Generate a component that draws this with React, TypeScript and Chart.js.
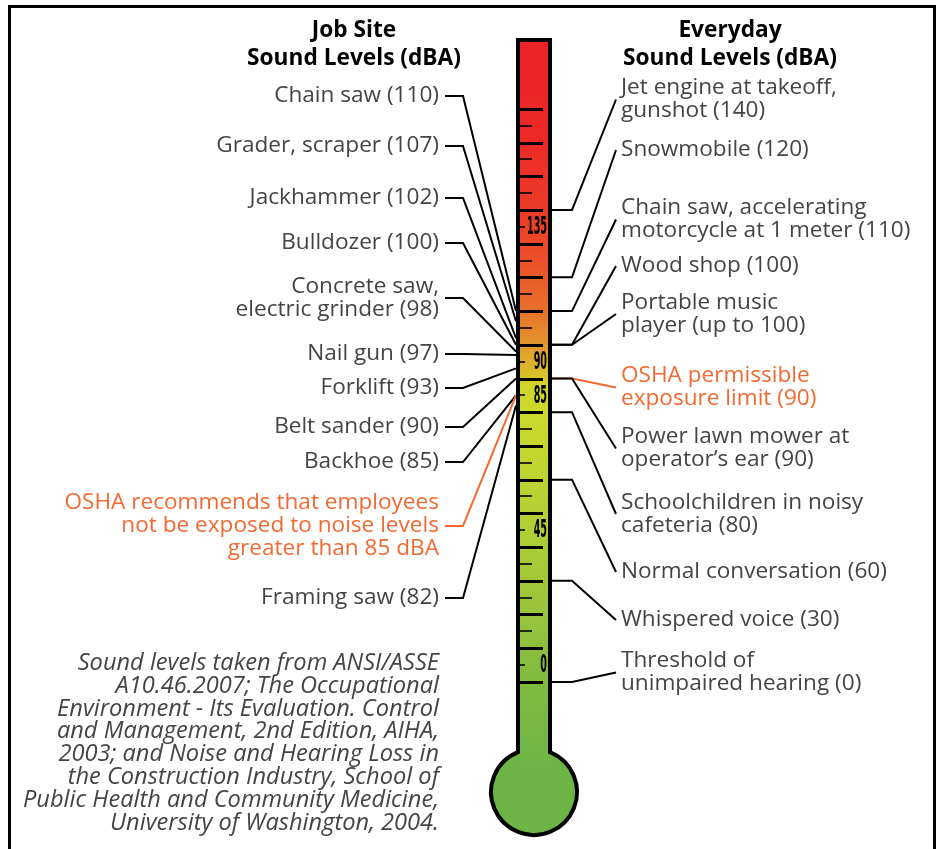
import React, { useEffect, useRef } from 'react';
import { Chart, registerables } from 'chart.js';
Chart.register(...registerables);

// ---------- DATA ----------
// Thermometer tube, in dBA (bottom buried in the bulb, top of the glass)
const tubeRange: [number, number] = [-25, 191];
// Gauge ticks every 5 dBA up to 170
const gaugeStep = 5;
const gaugeTop = 170;
// Printed gauge numbers and the tick they sit on (as drawn in the original)
const gaugeLabels = ['0', '45', '85', '90', '135'];
const gaugeLabelLevels = [5, 45, 85, 95, 135];

// Job site sources
const jobSiteLabels: string[][] = [
  ['Chain saw (110)'],
  ['Grader, scraper (107)'],
  ['Jackhammer (102)'],
  ['Bulldozer (100)'],
  ['Concrete saw,', 'electric grinder (98)'],
  ['Nail gun (97)'],
  ['Forklift (93)'],
  ['Belt sander (90)'],
  ['Backhoe (85)'],
  ['OSHA recommends that employees', 'not be exposed to noise levels', 'greater than 85 dBA'],
  ['Framing saw (82)'],
];
const jobSiteLevels = [110, 107, 102, 100, 98, 97, 93, 90, 85, 85, 82];

// Everyday sources
const everydayLabels: string[][] = [
  ['Jet engine at takeoff,', 'gunshot (140)'],
  ['Snowmobile (120)'],
  ['Chain saw, accelerating', 'motorcycle at 1 meter (110)'],
  ['Wood shop (100)'],
  ['Portable music', 'player (up to 100)'],
  ['OSHA permissible', 'exposure limit (90)'],
  ['Power lawn mower at', 'operator\u2019s ear (90)'],
  ['Schoolchildren in noisy', 'cafeteria (80)'],
  ['Normal conversation (60)'],
  ['Whispered voice (30)'],
  ['Threshold of', 'unimpaired hearing (0)'],
];
const everydayLevels = [140, 120, 110, 100, 100, 90, 90, 80, 60, 30, 0];

const headingLeft = ['Job Site', 'Sound Levels (dBA)'];
const headingRight = ['Everyday', 'Sound Levels (dBA)'];
const sourceNote = [
  'Sound levels taken from ANSI/ASSE',
  'A10.46.2007; The Occupational',
  'Environment - Its Evaluation. Control',
  'and Management, 2nd Edition, AIHA,',
  '2003; and Noise and Hearing Loss in',
  'the Construction Industry, School of',
  'Public Health and Community Medicine,',
  'University of Washington, 2004.',
];

// ---------- LAYOUT / STYLE ----------
const W = 936;
const H = 849;
const leftBlockY = [96, 146, 198, 243, 298, 354, 388, 427, 462, 526, 598];
const rightBlockY = [99.5, 150, 219.5, 266, 314, 387.5, 448.5, 514, 572, 620, 672.5];
const leftOrange = 9;
const rightOrange = 5;
const LINE_H = 23;
const ORANGE = '#f26a32';
const TEXT = '#444444';
const BULB = '#6cb545';
const gradientStops: [number, string][] = [
  [191, '#ec2227'],
  [160, '#ec2a28'],
  [135, '#ec4127'],
  [120, '#ea5a29'],
  [110, '#e8722b'],
  [100, '#e3962d'],
  [93, '#dbb82b'],
  [88, '#d2d42a'],
  [80, '#cbd92c'],
  [50, '#b5d035'],
  [20, '#97c43b'],
  [0, '#80bb40'],
  [-25, BULB],
];

const BODY_FONT = '"Open Sans", "DejaVu Sans", sans-serif';
const HEAD_FONT = '"Open Sans", "DejaVu Sans", sans-serif';

function fitSize(ctx: CanvasRenderingContext2D, weightStyle: string, family: string, sample: string, target: number) {
  ctx.font = `${weightStyle} 20px ${family}`;
  const w = ctx.measureText(sample).width || 1;
  return (20 * target) / w;
}

const thermoPlugin = {
  id: 'thermo',
  beforeDatasetsDraw(chart: any) {
    const ctx: CanvasRenderingContext2D = chart.ctx;
    const y = chart.scales.y;
    const ca = chart.chartArea;
    ctx.save();

    // frame
    ctx.strokeStyle = '#000';
    ctx.lineWidth = 3;
    ctx.strokeRect(9.5, 6.5, 925, 900);

    const bodySize = fitSize(ctx, 'normal', BODY_FONT, 'Normal conversation (60)', 266);
    const headSize = fitSize(ctx, 'bold', HEAD_FONT, 'Sound Levels (dBA)', 214);
    const noteSize = fitSize(ctx, 'italic', BODY_FONT, 'Public Health and Community Medicine,', 416);

    // headings
    ctx.fillStyle = '#000';
    ctx.textAlign = 'center';
    ctx.textBaseline = 'middle';
    ctx.font = `bold ${headSize}px ${HEAD_FONT}`;
    headingLeft.forEach((t, i) => ctx.fillText(t, 354, 31 + i * 28));
    headingRight.forEach((t, i) => ctx.fillText(t, 730, 31 + i * 28));

    const tubeL = ca.left;
    const tubeR = ca.right;
    const leftTextX = tubeL - 77;
    const rightTextX = tubeR + 69;

    // left leaders + labels
    ctx.font = `${bodySize}px ${BODY_FONT}`;
    jobSiteLabels.forEach((lines, i) => {
      const color = i === leftOrange ? ORANGE : TEXT;
      const cy = leftBlockY[i];
      ctx.fillStyle = color;
      ctx.textAlign = 'right';
      const y0 = cy - ((lines.length - 1) * LINE_H) / 2;
      lines.forEach((t, k) => ctx.fillText(t, leftTextX, y0 + k * LINE_H));
      const ty = y.getPixelForValue(jobSiteLevels[i]);
      ctx.strokeStyle = i === leftOrange ? ORANGE : '#000';
      ctx.lineWidth = 2;
      ctx.beginPath();
      ctx.moveTo(leftTextX + 6, cy);
      ctx.lineTo(leftTextX + 24, cy);
      ctx.lineTo(tubeL, ty);
      ctx.stroke();
    });

    // right leaders + labels
    everydayLabels.forEach((lines, i) => {
      const color = i === rightOrange ? ORANGE : TEXT;
      const cy = rightBlockY[i];
      ctx.fillStyle = color;
      ctx.textAlign = 'left';
      const y0 = cy - ((lines.length - 1) * LINE_H) / 2;
      lines.forEach((t, k) => ctx.fillText(t, rightTextX, y0 + k * LINE_H));
      const ty = y.getPixelForValue(everydayLevels[i]);
      ctx.strokeStyle = i === rightOrange ? ORANGE : '#000';
      ctx.lineWidth = 2;
      ctx.beginPath();
      ctx.moveTo(tubeR, ty);
      ctx.lineTo(tubeR + 20, ty);
      ctx.lineTo(rightTextX - 5, cy);
      ctx.stroke();
    });

    // source note
    ctx.fillStyle = TEXT;
    ctx.textAlign = 'right';
    ctx.font = `italic ${noteSize}px ${BODY_FONT}`;
    sourceNote.forEach((t, i) => ctx.fillText(t, leftTextX, 663 + i * 22.9));

    // bulb fill
    const cx = (tubeL + tubeR) / 2;
    const bcy = ca.bottom - 45;
    ctx.fillStyle = BULB;
    ctx.beginPath();
    ctx.arc(cx, bcy, 44, 0, Math.PI * 2);
    ctx.fill();
    ctx.restore();
  },
  afterDatasetsDraw(chart: any) {
    const ctx: CanvasRenderingContext2D = chart.ctx;
    const y = chart.scales.y;
    const ca = chart.chartArea;
    ctx.save();
    // outline of tube + bulb
    const L = ca.left + 2;
    const R = ca.right - 2;
    const T = ca.top + 2;
    const cx = (ca.left + ca.right) / 2;
    const bcy = ca.bottom - 45;
    const r = 43;
    const dx = R - cx;
    const dy = Math.sqrt(r * r - dx * dx);
    const aR = Math.atan2(-dy, dx);
    const aL = Math.atan2(-dy, -dx);
    ctx.beginPath();
    ctx.moveTo(L, bcy - dy);
    ctx.lineTo(L, T);
    ctx.lineTo(R, T);
    ctx.lineTo(R, bcy - dy);
    ctx.arc(cx, bcy, r, aR, aL + Math.PI * 2, false);
    ctx.closePath();
    ctx.strokeStyle = '#000';
    ctx.lineWidth = 4;
    ctx.lineJoin = 'miter';
    ctx.stroke();

    // ticks
    const inner = ca.left + 4;
    for (let v = 0; v <= gaugeTop; v += gaugeStep) {
      const py = Math.round(y.getPixelForValue(v));
      const major = v % (gaugeStep * 2) === 0;
      const labelled = gaugeLabelLevels.indexOf(v) >= 0;
      ctx.strokeStyle = major ? '#000' : 'rgba(0,0,0,0.8)';
      ctx.lineWidth = major ? 3 : 2;
      ctx.beginPath();
      ctx.moveTo(inner, py + (major ? 0.5 : 0));
      ctx.lineTo(inner + (major ? 23 : labelled ? 5 : 12), py + (major ? 0.5 : 0));
      ctx.stroke();
    }

    // gauge numbers (condensed bold)
    ctx.fillStyle = '#000';
    ctx.textAlign = 'right';
    ctx.textBaseline = 'middle';
    ctx.font = 'bold 24px "Liberation Sans Narrow", "DejaVu Sans", sans-serif';
    const sx = 20 / (ctx.measureText('135').width || 20);
    gaugeLabels.forEach((t, i) => {
      const py = y.getPixelForValue(gaugeLabelLevels[i]);
      ctx.save();
      ctx.translate(ca.right - 5, py + 1);
      ctx.scale(sx, 1);
      ctx.fillText(t, 0, 0);
      ctx.restore();
    });
    ctx.restore();
  },
};

export default function App() {
  const ref = useRef<HTMLCanvasElement | null>(null);
  useEffect(() => {
    if (!ref.current) return;
    const chart = new Chart(ref.current, {
      type: 'bar',
      data: {
        labels: ['Sound level'],
        datasets: [
          {
            label: 'Thermometer',
            data: [tubeRange as any],
            barPercentage: 1,
            categoryPercentage: 1,
            borderWidth: 0,
            backgroundColor: (c: any) => {
              const ch = c.chart;
              const sc = ch.scales && ch.scales.y;
              const ca = ch.chartArea;
              if (!sc || !ca) return BULB;
              const top = sc.getPixelForValue(tubeRange[1]);
              const bot = sc.getPixelForValue(tubeRange[0]);
              const g = ch.ctx.createLinearGradient(0, top, 0, bot);
              gradientStops.forEach(([v, col]) => {
                const p = (sc.getPixelForValue(v) - top) / (bot - top);
                g.addColorStop(Math.min(1, Math.max(0, p)), col);
              });
              return g;
            },
          },
        ],
      },
      options: {
        responsive: false,
        animation: false,
        devicePixelRatio: 1,
        layout: { padding: { left: 516, right: W - 552, top: 38, bottom: H - 837 } },
        scales: {
          x: { display: false },
          y: { display: false, min: -46, max: 191 },
        },
        plugins: { legend: { display: false }, tooltip: { enabled: false } },
        events: [],
      },
      plugins: [thermoPlugin],
    });
    return () => chart.destroy();
  }, []);
  return (
    <div style={{ position: 'absolute', left: 0, top: 0, width: W, height: H, background: '#fff' }}>
      <canvas ref={ref} width={W} height={H} style={{ display: 'block' }} />
    </div>
  );
}
